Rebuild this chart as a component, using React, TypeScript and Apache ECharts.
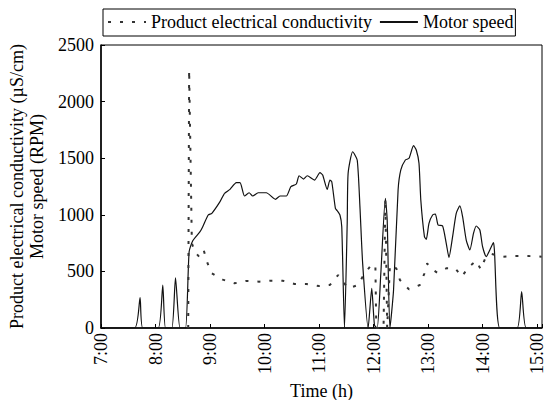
import React, { useEffect, useRef } from "react";
import * as echarts from "echarts";

// Product electrical conductivity (µS/cm)
const conductivityTimes = [
  "8:36", "8:37", "8:40", "8:43", "8:48", "8:53", "8:57", "9:02", "9:14", "9:27",
  "9:40", "9:54", "10:06", "10:20", "10:33", "10:46", "11:00", "11:12", "11:21", "11:32",
  "11:43", "11:49", "11:56", "12:02", "12:03", "12:11", "12:13", "12:15", "12:18", "12:25",
  "12:29", "12:39", "12:51", "12:56", "12:59", "13:02", "13:10", "13:20", "13:30", "13:37",
  "13:45", "13:53", "13:58", "14:03", "14:10", "14:22", "14:36", "14:50", "15:05",
];
const conductivityValues = [
  0, 2280, 750, 674, 630, 689, 577, 483, 427, 395,
  416, 409, 418, 418, 389, 389, 371, 380, 468, 350,
  380, 468, 541, 560, 0, 0, 1146, 0, 556, 527,
  424, 341, 380, 483, 571, 533, 489, 527, 527, 453,
  541, 594, 518, 616, 654, 630, 636, 636, 630,
];

// Motor speed (RPM)
const speedTimes = [
  "7:00", "7:37", "7:43", "7:46", "8:03", "8:08", "8:11", "8:18", "8:22", "8:27",
  "8:33", "8:37", "8:41", "8:49", "8:52", "8:58", "9:02", "9:11", "9:16", "9:22",
  "9:29", "9:33", "9:38", "9:43", "9:47", "9:53", "10:02", "10:12", "10:17", "10:24",
  "10:29", "10:35", "10:38", "10:43", "10:47", "10:55", "11:01", "11:04", "11:09", "11:12",
  "11:14", "11:18", "11:20", "11:23", "11:25", "11:28", "11:31", "11:32", "11:37", "11:42",
  "11:45", "11:48", "11:54", "11:58", "12:01", "12:04", "12:08", "12:13", "12:15", "12:18",
  "12:22", "12:27", "12:30", "12:35", "12:39", "12:44", "12:47", "12:50", "12:52", "12:56",
  "12:58", "13:01", "13:05", "13:08", "13:11", "13:16", "13:20", "13:23", "13:27", "13:31",
  "13:35", "13:38", "13:42", "13:46", "13:50", "13:53", "13:57", "14:00", "14:04", "14:08",
  "14:12", "14:13", "14:19", "14:38", "14:43", "14:48", "15:05",
];
const speedValues = [
  0, 0, 268, 0, 0, 380, 0, 0, 444, 0,
  0, 674, 771, 851, 895, 998, 1013, 1116, 1190, 1225,
  1284, 1284, 1166, 1195, 1166, 1195, 1195, 1137, 1166, 1166,
  1248, 1272, 1345, 1316, 1345, 1307, 1372, 1351, 1225, 1307,
  1292, 1057, 1036, 998, 895, 0, 925, 1366, 1557, 1484,
  1072, 571, 0, 350, 26, 0, 483, 1146, 954, 0,
  336, 1219, 1396, 1484, 1499, 1611, 1572, 1455, 1131, 807,
  783, 925, 998, 1007, 910, 901, 748, 624, 807, 1013,
  1078, 983, 777, 689, 836, 901, 866, 718, 630, 689,
  754, 689, 0, 0, 321, 0, 0,
];

const seriesNames = ["Product electrical conductivity", "Motor speed"];
const xAxisName = "Time (h)";
const yAxisName = "Product electrical conductivity (µS/cm)\nMotor speed (RPM)";
const xMin = 7;
const xMax = 15.09;
const yMin = 0;
const yMax = 2500;
const yStep = 500;

const FONT = "'Liberation Serif', serif";
const FS = 18;

function toHours(t: string): number {
  const [h, m] = t.split(":").map(Number);
  return h + m / 60;
}

function pairs(times: string[], values: number[]): [number, number][] {
  return times.map((t, i) => [toHours(t), values[i]]);
}

export default function App() {
  const ref = useRef<HTMLDivElement>(null);

  useEffect(() => {
    if (!ref.current) return;
    const chart = echarts.init(ref.current, null, { renderer: "svg" });
    chart.setOption({
      animation: false,
      backgroundColor: "#ffffff",
      textStyle: { fontFamily: FONT, color: "#000" },
      legend: {
        data: seriesNames,
        left: 103,
        top: 9,
        orient: "horizontal",
        borderColor: "#000",
        borderWidth: 1,
        padding: [4, 2, 5, 4],
        itemWidth: 38,
        itemHeight: 12,
        itemGap: 7,
        itemStyle: { opacity: 0 },
        textStyle: { fontFamily: FONT, fontSize: FS, color: "#000" },
      },
      grid: {
        left: 101,
        right: 2,
        top: 45,
        bottom: 72,
        show: true,
        borderColor: "#000",
        borderWidth: 1,
        backgroundColor: "transparent",
        outerBoundsMode: "none",
        containLabel: false,
      },
      xAxis: {
        type: "value",
        min: xMin,
        max: xMax,
        interval: 1,
        name: xAxisName,
        nameLocation: "middle",
        nameGap: 53,
        nameTextStyle: { fontFamily: FONT, fontSize: FS, color: "#000" },
        axisLine: { show: true, lineStyle: { color: "#000", width: 1.5 } },
        axisTick: { show: true, inside: true, length: 4, lineStyle: { color: "#000" } },
        splitLine: { show: false },
        axisLabel: {
          rotate: 90,
          margin: 5,
          fontFamily: FONT,
          fontSize: FS,
          color: "#000",
          formatter: (v: number) =>
            Math.abs(v - Math.round(v)) < 1e-6 ? `${Math.round(v)}:00` : "",
        },
      },
      yAxis: {
        type: "value",
        min: yMin,
        max: yMax,
        interval: yStep,
        name: yAxisName,
        nameLocation: "middle",
        nameGap: 53,
        nameTextStyle: { fontFamily: FONT, fontSize: FS, color: "#000", lineHeight: 20 },
        axisLine: { show: true, lineStyle: { color: "#000", width: 1.5 } },
        axisTick: { show: true, inside: true, length: 4, lineStyle: { color: "#000" } },
        splitLine: { show: false },
        axisLabel: {
          margin: 7,
          fontFamily: FONT,
          fontSize: FS,
          color: "#000",
          formatter: (v: number) => String(v),
        },
      },
      series: [
        {
          name: seriesNames[0],
          type: "line",
          data: pairs(conductivityTimes, conductivityValues),
          symbol: "none",
          lineStyle: { color: "#333", width: 2, type: [3, 9] },
          itemStyle: { color: "#333" },
          z: 3,
        },
        {
          name: seriesNames[1],
          type: "line",
          data: pairs(speedTimes, speedValues),
          symbol: "none",
          smooth: 0.2,
          lineStyle: { color: "#111", width: 1.2, type: "solid" },
          itemStyle: { color: "#111" },
          z: 2,
        },
      ],
    });
    return () => chart.dispose();
  }, []);

  return <div ref={ref} style={{ width: 544, height: 400, position: "absolute", left: 0, top: 0 }} />;
}
